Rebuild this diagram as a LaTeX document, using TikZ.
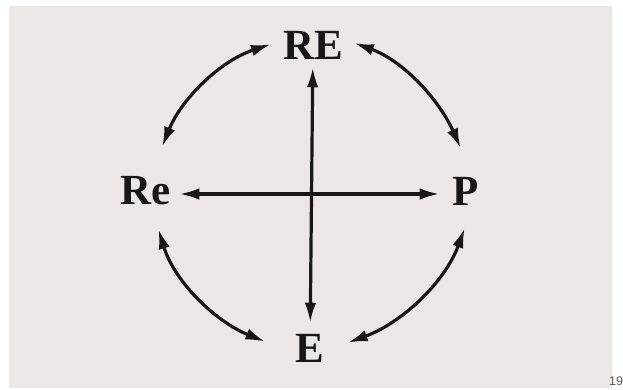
\documentclass[tikz,border=0pt]{standalone}
\usepackage{fontspec}
\setmainfont{Liberation Serif}
\setsansfont{Liberation Sans}
\usepackage{tikz}
\usetikzlibrary{arrows.meta}
\definecolor{paper}{RGB}{236,231,228}
\definecolor{ink}{RGB}{24,22,22}
\tikzset{
  lettername/.style={inner sep=0pt,text=ink,font=\fontsize{43}{48}\selectfont\bfseries},
  twowayarrow/.style={{Latex[length=20pt,width=11.5pt]}-{Latex[length=20pt,width=11.5pt]},
    line width=3.2pt,draw=ink},
  pagenumber/.style={inner sep=0pt,anchor=base west,text=black!65,
    font=\fontsize{12.5}{14}\selectfont\sffamily}
}

\begin{document}
\begin{tikzpicture}[x=1pt,y=1pt]
  \useasboundingbox (0,0) rectangle (623,390);
  \fill[paper] (9,2) rectangle (612,384);
  \node[lettername] (RE) at (313,345) {RE};
  \node[lettername] (Re) at (146,199) {Re};
  \node[lettername] (P) at (466,199) {P};
  \node[lettername] (E) at (310,42) {E};
  \node[pagenumber] (pageno) at (609,4) {19};
  \draw[twowayarrow,shorten <=8pt,shorten >=11pt] (RE) -- (E);
  \draw[twowayarrow,shorten <=8pt,shorten >=13pt] ([yshift=-3pt]Re.east) -- ([yshift=-3pt]P.west);
  % the four curved links round the cross
  \foreach \a/\aang/\arad/\b/\bang/\brad/\oa/\ia in
    {RE/179/42/Re/70/47/198/68, RE/3/41/P/97/43/340/114,
     Re/288/40/E/172/45/287/158, P/268/37/E/8/38/250/20}
    \draw[twowayarrow] ([shift={(\aang:\arad)}]\a.center)
      to[out=\oa,in=\ia,looseness=0.9] ([shift={(\bang:\brad)}]\b.center);
\end{tikzpicture}
\end{document}
